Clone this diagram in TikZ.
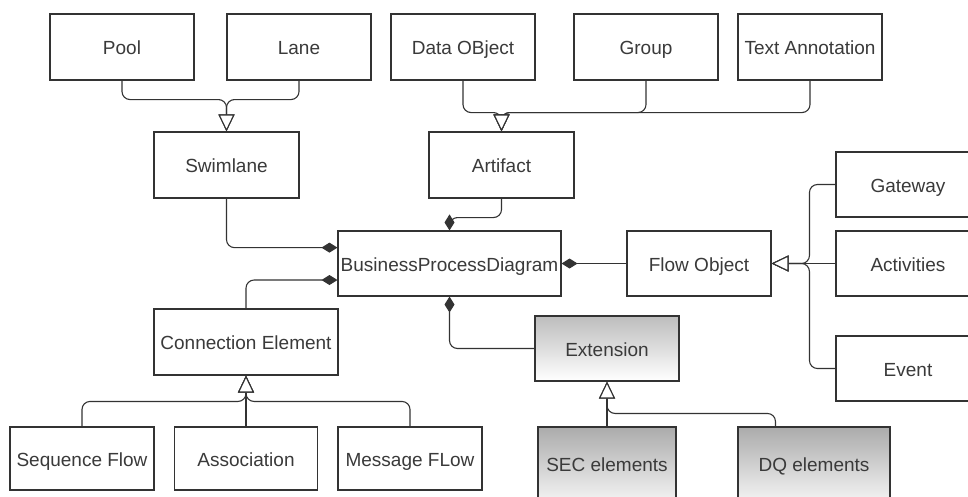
\documentclass[tikz,border=0pt]{standalone}
\usepackage{fontspec}
\setmainfont{Liberation Sans}
\usetikzlibrary{arrows.meta,calc}
\definecolor{ink}{HTML}{333333}
\definecolor{txt}{HTML}{3A3A3A}
\tikzset{
  box/.style={draw=ink, line width=1.1pt, fill=white, rectangle, inner sep=0pt,
    minimum width=144pt, minimum height=66pt, text=txt,
    text height=16.5pt, text depth=1.5pt,
    font=\fontsize{19}{22}\selectfont},
  extbox/.style={box, top color=gray!52, bottom color=white},
  subbox/.style={box, top color=gray!66, bottom color=gray!10},
  link/.style={draw=ink, line width=1.1pt, rounded corners=8pt},
  gen/.style={link, -{Triangle[open, length=17pt, width=16pt, fill=white, line width=1.1pt]}},
  comp/.style={link, -{Diamond[length=16pt, width=10pt, fill=ink]}}
}
\begin{document}
\begin{tikzpicture}[x=1pt, y=-1pt]
  \useasboundingbox (0,0) rectangle (968,496);

  % top row
  \node[box] (pool)    at (122,47) {Pool};
  \node[box] (lane)    at (299,47) {Lane};
  \node[box] (dataobj) at (463,47) {Data OBject};
  \node[box] (group)   at (646,47) {Group};
  \node[box] (textann) at (810,47) {Text Annotation};

  % second row
  \node[box, minimum width=145pt] (swim)     at (226.5,165) {Swimlane};
  \node[box, minimum width=145pt] (artifact) at (501.5,165) {Artifact};

  % central class and its neighbours
  \node[box, minimum width=223pt, minimum height=65pt] (bpd) at (449.5,263.5) {BusinessProcessDiagram};
  \node[box, minimum height=65pt] (flowobj)    at (699,263.5) {Flow Object};
  \node[box, minimum height=65pt] (gateway)    at (908,184.5) {Gateway};
  \node[box, minimum height=65pt] (activities) at (908,263.5) {Activities};
  \node[box, minimum height=65pt] (event)      at (908,368.5) {Event};

  \node[box, minimum width=184pt] (conn) at (246,342) {Connection Element};
  \node[extbox, minimum height=65pt] (extension) at (607,348.5) {Extension};

  % bottom row
  \node[box, minimum height=63pt] (seqflow) at (82,458.5)  {Sequence Flow};
  \node[box, minimum height=63pt, minimum width=143pt] (assoc) at (246,458.5) {Association};
  \node[box, minimum height=63pt] (msgflow) at (410,458.5) {Message FLow};
  \node[subbox, minimum width=138pt, minimum height=73pt] (sec) at (607,463.5) {SEC elements};
  \node[subbox, minimum width=152pt, minimum height=73pt] (dq)  at (814,463.5) {DQ elements};

  % generalisations
  \draw[gen] (pool.south) -- ++(0,19) -| (swim.north);
  \draw[gen] (lane.south) -- ++(0,19) -| (swim.north);

  \draw[gen] (dataobj.south) -- ++(0,32) -| (artifact.north);
  \draw[gen] (group.south)   -- ++(0,32) -| (artifact.north);
  \draw[gen] (textann.south) -- ++(0,32) -| (artifact.north);

  \draw[gen] (gateway.west) -- ++(-26,0) |- (flowobj.east);
  \draw[gen] (activities.west) -- (flowobj.east);
  \draw[gen] (event.west) -- ++(-26,0) |- (flowobj.east);

  \draw[gen] (seqflow.north) -- ++(0,-25) -| (conn.south);
  \draw[gen] (assoc.north) -- (conn.south);
  \draw[gen] (msgflow.north) -- ++(0,-25) -| (conn.south);

  \draw[gen] (sec.north) -- (extension.south);
  \draw[gen] ($(dq.north west)+(38,0)$) -- ++(0,-13) -| (extension.south);

  % compositions into the diagram class
  \draw[comp] (swim.south) |- ($(bpd.north west)!0.26!(bpd.south west)$);
  \draw[comp] (conn.north) |- ($(bpd.north west)!0.75!(bpd.south west)$);
  \draw[comp] (artifact.south) -- ++(0,19) -| (bpd.north);
  \draw[comp] (flowobj.west) -- (bpd.east);
  \draw[comp] (extension.west) -| (bpd.south);
\end{tikzpicture}
\end{document}
